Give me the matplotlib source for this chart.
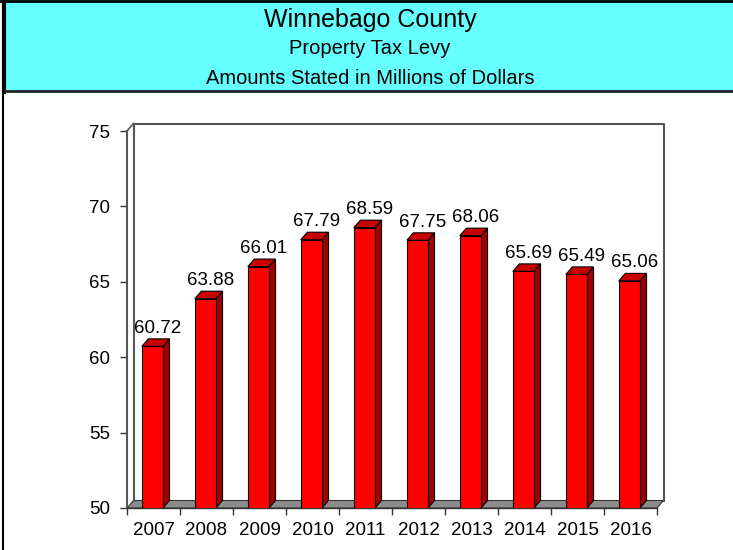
import matplotlib
matplotlib.use("Agg")
import matplotlib.pyplot as plt
from matplotlib.patches import Polygon, Rectangle

years = ["2007", "2008", "2009", "2010", "2011", "2012", "2013", "2014", "2015", "2016"]
values = [60.72, 63.88, 66.01, 67.79, 68.59, 67.75, 68.06, 65.69, 65.49, 65.06]
title_lines = ["Winnebago County", "Property Tax Levy", "Amounts Stated in Millions of Dollars"]
yticks = [50, 55, 60, 65, 70, 75]

plt.rcParams['font.family'] = ['Liberation Sans', 'DejaVu Sans']

W, H = 733, 550
fig = plt.figure(figsize=(W / 100, H / 100), dpi=100)
fig.patch.set_facecolor("white")

# header band
hdr = fig.add_axes([0, 0, 1, 1])
hdr.set_xlim(0, W)
hdr.set_ylim(H, 0)
hdr.axis("off")
hdr.add_patch(Rectangle((3, 0), W, 91, facecolor="#66FFFF", edgecolor="none"))
hdr.plot([0, W], [1, 1], color="black", lw=2)
hdr.plot([4, 4], [0, 92], color="black", lw=3)
hdr.plot([3, W], [91, 91], color="#222222", lw=2)
hdr.plot([3, 3], [91, H], color="black", lw=1.5)
hdr.text(370, 20, title_lines[0], fontsize=18, ha="center", va="center")
hdr.text(370, 49, title_lines[1], fontsize=14.5, ha="center", va="center")
hdr.text(370, 78, title_lines[2], fontsize=14.5, ha="center", va="center")

# plot axes
x0, x1 = 127, 657
ytop, ybot = 131, 508
ax = fig.add_axes([x0 / W, (H - ybot) / H, (x1 - x0) / W, (ybot - ytop) / H])
ax.set_xlim(-0.5, len(years) - 0.5)
ax.set_ylim(50, 75)
ax.patch.set_alpha(0)

pxx = (x1 - x0) / len(years)
pxy = (ybot - ytop) / 25.0
dx = 6.5 / pxx
dy = 7.5 / pxy
n = len(years)
lo, hi = -0.5, n - 0.5
wall = "#555555"

# floor
ax.add_patch(Polygon([(lo, 50), (hi, 50), (hi + dx, 50 + dy), (lo + dx, 50 + dy)],
                     closed=True, facecolor="#8C8C8C", edgecolor="#333333", lw=0.8,
                     clip_on=False, zorder=1))
# back wall
ax.plot([lo + dx, lo + dx, hi + dx, hi + dx], [50 + dy, 75 + dy, 75 + dy, 50 + dy],
        color=wall, lw=1.5, clip_on=False, zorder=1)
ax.plot([lo, lo + dx], [75, 75 + dy], color=wall, lw=1.2, clip_on=False, zorder=1)

# bars
bw = 0.40
off = -0.02
for i, v in enumerate(values):
    l = i + off - bw / 2
    r = i + off + bw / 2
    side = Polygon([(r, 50), (r + dx, 50 + dy), (r + dx, v + dy), (r, v)], closed=True,
                   facecolor="#A00000", edgecolor="black", lw=0.8, clip_on=False, zorder=3)
    top = Polygon([(l, v), (r, v), (r + dx, v + dy), (l + dx, v + dy)], closed=True,
                  facecolor="#C80000", edgecolor="black", lw=0.8, clip_on=False, zorder=3)
    ax.add_patch(side)
    ax.add_patch(top)
ax.bar([i + off for i in range(n)], [v - 50 for v in values], bottom=50, width=bw,
       color="#FF0000", edgecolor="black", linewidth=0.8, zorder=4)
for i, v in enumerate(values):
    ax.annotate(f"{v:.2f}", (i + off + dx / 2 + 0.04, v + dy), xytext=(0, 1.5),
                textcoords="offset points", ha="center", va="bottom", fontsize=13.5)

# axes styling
for s in ["top", "right"]:
    ax.spines[s].set_visible(False)
ax.spines["left"].set_color(wall)
ax.spines["left"].set_linewidth(1.5)
ax.spines["bottom"].set_color("#333333")
ax.spines["bottom"].set_linewidth(1.0)
ax.set_yticks(yticks)
ax.set_yticklabels([str(t) for t in yticks])
ax.tick_params(axis="y", length=5, width=1, color="#333333", labelsize=13.5, pad=7)
ax.set_xticks(range(n))
ax.set_xticklabels(years)
ax.set_xticks([i - 0.5 for i in range(n + 1)], minor=True)
ax.tick_params(axis="x", which="major", length=0, labelsize=13.5, pad=10)
ax.tick_params(axis="x", which="minor", length=5, width=1, color="#333333")

fig.savefig("out.png", dpi=100)
